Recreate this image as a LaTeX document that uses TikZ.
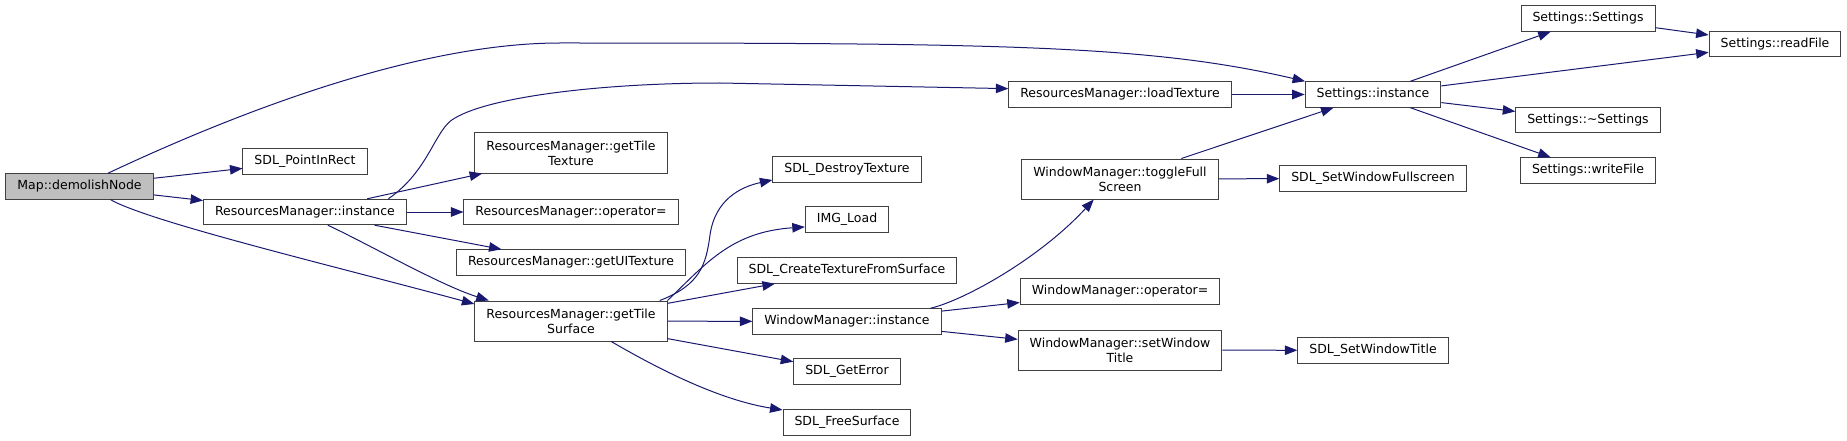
\documentclass[tikz,border=0pt]{standalone}
\usepackage{fontspec}
\setmainfont{DejaVu Sans}
\usepackage{xcolor}
\usepackage{tikz}
\usetikzlibrary{arrows.meta}
\definecolor{callblue}{HTML}{191970}
\definecolor{boxline}{HTML}{404040}
\definecolor{focusgray}{HTML}{BFBFBF}

\begin{document}
\begin{tikzpicture}[
  x=1pt, y=-1pt,
  box/.style={draw=boxline, line width=1pt, fill=white, inner xsep=11.5pt, inner ysep=0pt, minimum height=25.4pt, align=center, font=\fontsize{12.5}{15.3}\selectfont},
  tallbox/.style={box, minimum height=40pt},
  call/.style={draw=callblue, line width=1pt, -{Triangle[length=12.5pt, width=9.5pt]}}
]
  \useasboundingbox (0,0) rectangle (1847,441);

  \node[box, fill=focusgray] (demolish) at (79.5,186.5) {Map::demolishNode};
  \node[box] (pointrect) at (305,161.5) {SDL\_PointInRect};
  \node[box] (rminst) at (305,212) {ResourcesManager::instance};
  \node[tallbox] (tiletex) at (571,153) {ResourcesManager::getTile\\Texture};
  \node[box] (rmop) at (571,212) {ResourcesManager::operator=};
  \node[box] (uitex) at (571,262.5) {ResourcesManager::getUITexture};
  \node[tallbox] (tilesurf) at (571,321) {ResourcesManager::getTile\\Surface};
  \node[box] (loadtex) at (1120,94.5) {ResourcesManager::loadTexture};
  \node[box] (destroytex) at (847,169.5) {SDL\_DestroyTexture};
  \node[box] (imgload) at (847,219.5) {IMG\_Load};
  \node[box] (createtex) at (847,270.5) {SDL\_CreateTextureFromSurface};
  \node[box] (wminst) at (847,321.5) {WindowManager::instance};
  \node[box] (geterror) at (847,371.5) {SDL\_GetError};
  \node[box] (freesurf) at (847,422.5) {SDL\_FreeSurface};
  \node[tallbox] (togglefs) at (1120,179) {WindowManager::toggleFull\\Screen};
  \node[box] (wmop) at (1120,291.5) {WindowManager::operator=};
  \node[tallbox] (settitle) at (1120,350) {WindowManager::setWindow\\Title};
  \node[box] (sinst) at (1373,94.5) {Settings::instance};
  \node[box] (sdlfull) at (1373,178.5) {SDL\_SetWindowFullscreen};
  \node[box] (sdltitle) at (1373,350.4) {SDL\_SetWindowTitle};
  \node[box] (sctor) at (1588,18.5) {Settings::Settings};
  \node[box] (readfile) at (1775,44) {Settings::readFile};
  \node[box] (sdtor) at (1588,120) {Settings::\textasciitilde Settings};
  \node[box] (writefile) at (1588,170.5) {Settings::writeFile};

  % calls out of Map::demolishNode
  \draw[call] (demolish.25) .. controls (200,130) and (400,43) .. (560,43) .. controls (1000,43) and (1150,45) .. (sinst.169);
  \draw[call] (demolish) -- (pointrect);
  \draw[call] (demolish) -- (rminst);
  \draw[call] (demolish.-23) .. controls (150,222) and (330,265) .. (tilesurf.170);

  % ResourcesManager
  \draw[call] (rminst.9) .. controls (430,170) and (435,128) .. (455,118) .. controls (490,97) and (600,83) .. (720,83) -- (loadtex.177);
  \draw[call] (rminst.12) -- (tiletex.193);
  \draw[call] (rminst) -- (rmop);
  \draw[call] (rminst) -- (uitex);
  \draw[call] (rminst.-30) .. controls (370,245) and (440,285) .. (tilesurf.166);
  \draw[call] (tilesurf.13) .. controls (700,285) and (706,265) .. (710,235) .. controls (715,200) and (740,187) .. (destroytex.188);
  \draw[call] (tilesurf.12) .. controls (705,265) and (730,232) .. (imgload.190);
  \draw[call] (tilesurf) -- (createtex);
  \draw[call] (tilesurf) -- (wminst);
  \draw[call] (tilesurf) -- (geterror);
  \draw[call] (tilesurf.-27) .. controls (660,370) and (720,400) .. (freesurf.169);
  \draw[call] (loadtex) -- (sinst);

  % WindowManager
  \draw[call] (wminst.9) .. controls (965,300) and (1040,258) .. (togglefs.218);
  \draw[call] (wminst) -- (wmop);
  \draw[call] (wminst) -- (settitle);
  \draw[call] (togglefs) -- (sinst);
  \draw[call] (togglefs) -- (sdlfull);
  \draw[call] (settitle) -- (sdltitle);

  % Settings
  \draw[call] (sinst) -- (sctor);
  \draw[call] (sinst) -- (readfile);
  \draw[call] (sinst) -- (sdtor);
  \draw[call] (sinst) -- (writefile);
  \draw[call] (sctor) -- (readfile);
\end{tikzpicture}
\end{document}
